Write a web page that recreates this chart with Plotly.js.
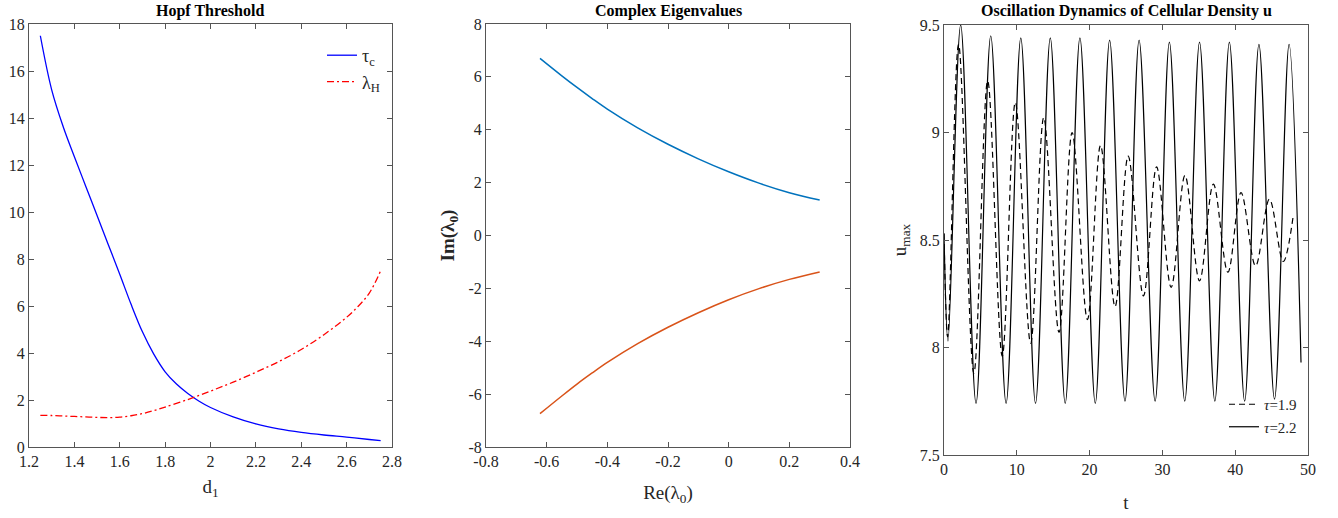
<!DOCTYPE html>
<html>
<head>
<meta charset="utf-8">
<script src="https://cdn.plot.ly/plotly-3.0.1.min.js"></script>
<style>html,body{margin:0;padding:0;background:#fff;}#chart{width:1338px;height:518px;}</style>
</head>
<body>
<div id="chart"></div>
<script>
// ---- Panel 1: Hopf threshold ----
const d1Tau = [1.25,1.3,1.35,1.4,1.45,1.5,1.55,1.6,1.65,1.7,1.75,1.8,1.85,1.9,1.95,2.0,2.1,2.2,2.3,2.4,2.5,2.6,2.7,2.75];
const tauC = [17.5,15.2,13.65,12.35,11.1,9.85,8.6,7.35,6.07,4.9,3.95,3.2,2.68,2.28,1.95,1.68,1.28,0.98,0.77,0.62,0.51,0.42,0.32,0.27];
const d1Lambda = [1.25,1.3,1.35,1.4,1.45,1.5,1.55,1.6,1.65,1.7,1.75,1.8,1.9,2.0,2.1,2.2,2.3,2.4,2.5,2.6,2.65,2.7,2.75];
const lambdaH = [1.35,1.34,1.32,1.30,1.28,1.26,1.25,1.27,1.33,1.42,1.55,1.70,2.02,2.38,2.76,3.18,3.63,4.15,4.78,5.52,5.98,6.55,7.5];

// ---- Panel 2: complex eigenvalues ----
const reLambda0 = [-0.622,-0.55,-0.5,-0.45,-0.4,-0.3,-0.2,-0.1,0,0.1,0.2,0.3];
const imUpper = [6.70,6.04,5.60,5.18,4.78,4.07,3.45,2.90,2.41,1.98,1.62,1.34];
const imLower = [-6.74,-6.07,-5.62,-5.20,-4.80,-4.09,-3.47,-2.92,-2.43,-2.01,-1.66,-1.38];
const xTicks2 = [-0.8,-0.6,-0.4,-0.2,0,0.2,0.4];
const xTickText2 = ["-0.8","-0.6","-0.4","-0.2","0","0.2","0.4"];
const yTicks2 = [-8,-6,-4,-2,0,2,4,6,8];
const yTickText2 = ["-8","-6","-4","-2","0","2","4","6","8"];

// ---- Panel 3: oscillation dynamics (extrema) ----
const tTau19 = [0,0.5,2.0,4.1,6.0,8.0,9.8,11.9,13.7,15.8,17.6,19.7,21.5,23.5,25.3,27.4,29.2,31.2,33.1,35.1,37.0,39.0,40.8,42.8,44.7,46.6,48.0];
const uTau19 = [8.53,8.05,9.41,7.88,9.24,7.96,9.14,8.02,9.07,8.07,9.0,8.13,8.94,8.19,8.89,8.24,8.84,8.28,8.80,8.31,8.76,8.35,8.72,8.38,8.69,8.40,8.62];
const tTau22 = [0,0.55,2.29,4.4,6.42,8.53,10.55,12.57,14.6,16.65,18.67,20.78,22.75,24.86,26.8,29.0,30.96,33.07,35.1,37.2,39.2,41.3,43.26,45.4,47.4,49.04];
const uTau22 = [8.53,8.03,9.5,7.74,9.45,7.74,9.44,7.74,9.44,7.74,9.44,7.74,9.43,7.75,9.43,7.75,9.42,7.75,9.42,7.75,9.42,7.75,9.41,7.76,9.41,7.93];

const W = 1338, H = 518;
const FONT = 'Liberation Serif, Times New Roman, serif';
const AX = '#555555';
const TXT = '#262626';
function px(x){return x/W;}
function py(y){return (H-y)/H;}

function axisBase(extra){
  return Object.assign({
    showline:true, mirror:'ticks', ticks:'inside', ticklen:5, tickwidth:1,
    linecolor:AX, tickcolor:AX, linewidth:1, showgrid:false, zeroline:false,
    tickfont:{family:FONT,size:16,color:TXT}, automargin:false, fixedrange:true
  }, extra);
}
const titleFont = {family:FONT,size:19,color:TXT};

const traces = [
  {x:d1Tau, y:tauC, type:'scatter', mode:'lines', name:'τ<sub>c</sub>', line:{color:'#0000FF',width:1.3,shape:'spline',smoothing:1}, xaxis:'x', yaxis:'y', legend:'legend'},
  {x:d1Lambda, y:lambdaH, type:'scatter', mode:'lines', name:'λ<sub>H</sub>', line:{color:'#FF0000',width:1.3,dash:'7px,3px,2px,3px',shape:'spline',smoothing:1}, xaxis:'x', yaxis:'y', legend:'legend'},
  {x:reLambda0, y:imUpper, type:'scatter', mode:'lines', showlegend:false, line:{color:'#0072BD',width:1.5,shape:'spline'}, xaxis:'x2', yaxis:'y2'},
  {x:reLambda0, y:imLower, type:'scatter', mode:'lines', showlegend:false, line:{color:'#D95319',width:1.5,shape:'spline'}, xaxis:'x2', yaxis:'y2'},
  {x:tTau19, y:uTau19, type:'scatter', mode:'lines', name:'<i>τ</i>=1.9', line:{color:'#000000',width:1.2,dash:'6px,4px',shape:'spline',smoothing:1}, xaxis:'x3', yaxis:'y3', legend:'legend2'},
  {x:tTau22, y:uTau22, type:'scatter', mode:'lines', name:'<i>τ</i>=2.2', line:{color:'#000000',width:1.2,shape:'spline',smoothing:1}, xaxis:'x3', yaxis:'y3', legend:'legend2'}
];

const layout = {
  width:W, height:H, margin:{l:0,r:0,t:0,b:0}, paper_bgcolor:'#fff', plot_bgcolor:'#fff',
  font:{family:FONT,color:TXT},
  showlegend:true,
  xaxis: axisBase({domain:[px(29),px(392)], range:[1.2,2.8], dtick:0.2, tick0:1.2, anchor:'y',
    title:{text:'d<sub>1</sub>', font:titleFont, standoff:10}}),
  yaxis: axisBase({domain:[py(447),py(24)], range:[0,18], dtick:2, anchor:'x'}),
  xaxis2: axisBase({domain:[px(486),px(850)], range:[-0.8,0.4], tickvals:xTicks2, ticktext:xTickText2, anchor:'y2',
    title:{text:'Re(λ<sub>0</sub>)', font:titleFont, standoff:16}}),
  yaxis2: axisBase({domain:[py(447),py(24)], range:[-8,8], tickvals:yTicks2, ticktext:yTickText2, anchor:'x2',
    title:{text:'<b>Im(λ<sub>0</sub>)</b>', font:titleFont, standoff:8}}),
  xaxis3: axisBase({domain:[px(944),px(1308)], range:[0,50], dtick:10, anchor:'y3',
    title:{text:'t', font:titleFont, standoff:18}}),
  yaxis3: axisBase({domain:[py(455),py(25)], range:[7.5,9.5], dtick:0.5, anchor:'x3',
    title:{text:'u<sub>max</sub>', font:titleFont, standoff:8}}),
  legend:{x:px(322), y:py(37), xanchor:'left', yanchor:'top', bgcolor:'rgba(0,0,0,0)', borderwidth:0,
    font:{family:FONT,size:18,color:TXT}, itemwidth:30, tracegroupgap:0},
  legend2:{x:px(1224), y:py(388), xanchor:'left', yanchor:'top', bgcolor:'rgba(0,0,0,0)', borderwidth:0,
    font:{family:FONT,size:15,color:TXT}, itemwidth:30, tracegroupgap:0},
  annotations:[
    {text:'<b>Hopf Threshold</b>', x:px(210), y:py(11), xref:'paper', yref:'paper', xanchor:'center', yanchor:'middle', showarrow:false, font:{family:FONT,size:16,color:'#000'}},
    {text:'<b>Complex Eigenvalues</b>', x:px(668), y:py(11), xref:'paper', yref:'paper', xanchor:'center', yanchor:'middle', showarrow:false, font:{family:FONT,size:16,color:'#000'}},
    {text:'<b>Oscillation Dynamics of Cellular Density u</b>', x:px(1126), y:py(11), xref:'paper', yref:'paper', xanchor:'center', yanchor:'middle', showarrow:false, font:{family:FONT,size:16,color:'#000'}}
  ]
};

Plotly.newPlot('chart', traces, layout, {displayModeBar:false, staticPlot:true});
</script>
</body>
</html>
